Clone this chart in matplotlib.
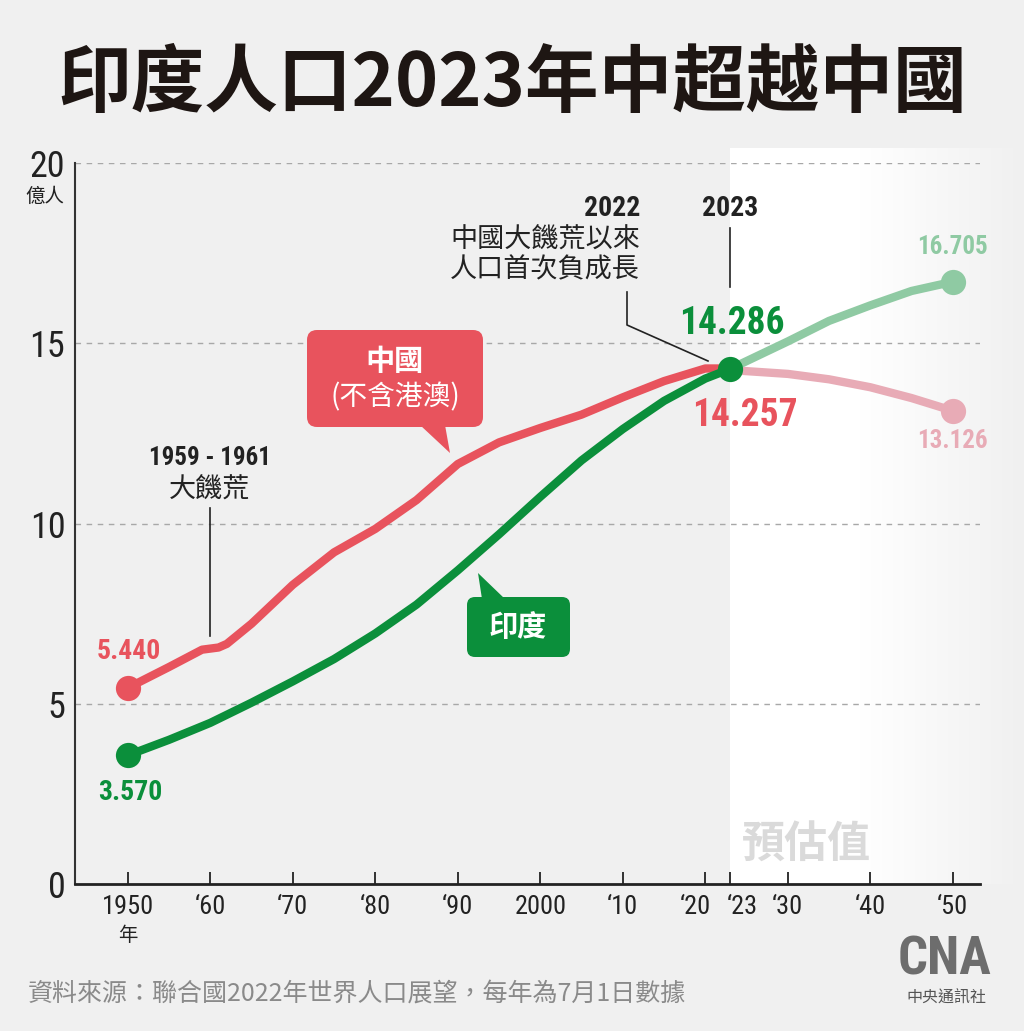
import numpy as np
import matplotlib.pyplot as plt
from matplotlib.patches import FancyBboxPatch, Polygon
from matplotlib.transforms import Affine2D, ScaledTranslation
from matplotlib.colors import to_rgb

plt.rcParams['font.family'] = ['Noto Sans CJK TC', 'DejaVu Sans']

# data (億人)
china_years = [1950, 1955, 1959, 1961, 1962, 1965, 1970, 1975, 1980, 1985,
               1990, 1995, 2000, 2005, 2010, 2015, 2020, 2022, 2023]
china_vals = [5.44, 6.02, 6.5, 6.56, 6.66, 7.22, 8.3, 9.2, 9.85, 10.65,
              11.65, 12.25, 12.65, 13.02, 13.5, 13.95, 14.3, 14.3, 14.257]
india_years = [1950, 1955, 1960, 1965, 1970, 1975, 1980, 1985, 1990, 1995,
               2000, 2005, 2010, 2015, 2020, 2023]
india_vals = [3.57, 4.0, 4.47, 5.03, 5.62, 6.24, 6.95, 7.75, 8.7, 9.7,
              10.74, 11.75, 12.62, 13.4, 14.02, 14.286]
proj_years = [2023, 2030, 2035, 2040, 2045, 2050]
china_proj = [14.257, 14.15, 14.0, 13.78, 13.48, 13.126]
india_proj = [14.286, 15.05, 15.62, 16.05, 16.45, 16.705]

tick_years = [1950, 1960, 1970, 1980, 1990, 2000, 2010, 2020, 2023, 2030, 2040, 2050]
tick_labels = ['1950', '‘60', '‘70', '‘80', '‘90', '2000', '‘10', '‘20', '‘23',
               '‘30', '‘40', '‘50']

BG = '#f0f0f0'
RED = '#e8535d'
GREEN = '#0b8f3b'
LGREEN = '#8fcaa3'
PINK = '#e8abb6'
NUM = ['Roboto Condensed', 'Liberation Sans Narrow', 'Roboto', 'Noto Sans CJK TC']

W, H = 1024, 1031
fig = plt.figure(figsize=(W / 100, H / 100), dpi=100)
fig.patch.set_facecolor(BG)
# pixel coords, origin top-left
pix = Affine2D().scale(1 / W, -1 / H).translate(0, 1) + fig.transFigure

ax = fig.add_axes([75 / W, 1 - 884 / H, 905 / W, 721 / H])
ax.set_facecolor('none')

# forecast background
xs = np.linspace(730, 1024, 300)
t = np.clip((xs - 860) / (1024 - 860), 0, 1)
c0, c1 = np.array([1, 1, 1]), np.array(to_rgb(BG))
grad = (c0[None, :] * (1 - t[:, None]) + c1[None, :] * t[:, None])[None, :, :]
ax.imshow(grad, extent=[2023, 2058.7, 0, 20.4], aspect='auto', clip_on=False,
          zorder=0, interpolation='bilinear')

ax.set_xlim(1943.6, 2053.3)
ax.set_ylim(0, 20)

for v in [5, 10, 15, 20]:
    ax.axhline(v, color='#a8a8a8', lw=1, dashes=(4, 4), zorder=1)

ax.plot(proj_years, china_proj, color=PINK, lw=6, solid_capstyle='round', zorder=2)
ax.plot(proj_years, india_proj, color=LGREEN, lw=6, solid_capstyle='round', zorder=2)
ax.plot(china_years, china_vals, color=RED, lw=6, solid_capstyle='round',
        solid_joinstyle='round', zorder=3)
ax.plot(india_years, india_vals, color=GREEN, lw=6, solid_capstyle='round',
        solid_joinstyle='round', zorder=4)

ax.scatter([proj_years[-1]], [china_proj[-1]], s=330, color=PINK, zorder=5, lw=0)
ax.scatter([proj_years[-1]], [india_proj[-1]], s=330, color=LGREEN, zorder=5, lw=0)
ax.scatter([china_years[0]], [china_vals[0]], s=330, color=RED, zorder=5, lw=0)
ax.scatter([india_years[0]], [india_vals[0]], s=330, color=GREEN, zorder=5, lw=0)
ax.scatter([india_years[-1]], [india_vals[-1]], s=330, color=GREEN, zorder=6, lw=0)

# axes
for s in ['top', 'right']:
    ax.spines[s].set_visible(False)
ax.spines['left'].set_color('#333333')
ax.spines['left'].set_linewidth(1.5)
ax.spines['bottom'].set_color('#222222')
ax.spines['bottom'].set_linewidth(2)
ax.set_yticks([0, 5, 10, 15, 20])
ax.set_yticklabels(['0', '5', '10', '15', '20'], family=NUM, fontsize=26, color='#222222')
ax.tick_params(axis='y', length=0, pad=7)
ax.set_xticks(tick_years)
ax.set_xticklabels(tick_labels, family=NUM, fontsize=19, color='#222222')
ax.tick_params(axis='x', direction='in', length=9, width=1.3, color='#222222', pad=8)
labs = ax.get_xticklabels()
labs[7].set_transform(labs[7].get_transform() + ScaledTranslation(-7 / 72, 0, fig.dpi_scale_trans))
labs[8].set_transform(labs[8].get_transform() + ScaledTranslation(9 / 72, 0, fig.dpi_scale_trans))
ax.annotate('年', xy=(1950, 0), xytext=(0, -37), textcoords='offset points',
            ha='center', va='center', fontsize=14, color='#222222')

# value labels
def vlabel(x, y, s, color, dx, dy, size, weight='bold'):
    ax.annotate(s, xy=(x, y), xytext=(dx, dy), textcoords='offset points',
                ha='center', va='center', family=NUM, fontsize=size,
                fontweight=weight, color=color, zorder=7)

vlabel(china_years[0], china_vals[0], '5.440', RED, 1, 26, 20)
vlabel(india_years[0], india_vals[0], '3.570', GREEN, 2, -27, 20)
vlabel(india_years[-1], india_vals[-1], '14.286', GREEN, 1, 33, 27)
vlabel(china_years[-1], china_vals[-1], '14.257', RED, 11, -33, 27)
vlabel(proj_years[-1], india_proj[-1], '16.705', LGREEN, 0, 25, 18)
vlabel(proj_years[-1], china_proj[-1], '13.126', PINK, 0, -22, 18)

# text outside data
fig.text(512, 85, '印度人口2023年中超越中國', transform=pix, ha='center', va='center',
         fontsize=53, fontweight='black', color='#1e1613')
fig.text(45, 196, '億人', transform=pix, ha='center', va='center', fontsize=14, color='#222222')

# famine note
fig.text(210, 458, '1959 - 1961', transform=pix, ha='center', va='center',
         family=NUM, fontsize=18, fontweight='bold', color='#222222')
fig.text(210, 490, '大饑荒', transform=pix, ha='center', va='center', fontsize=19.5, color='#222222')
ax.plot([210, 210], [508, 636], color='#222222', lw=1.2, transform=pix, zorder=2)

# 2022 note
fig.text(640, 208, '2022', transform=pix, ha='right', va='center',
         family=NUM, fontsize=20, fontweight='bold', color='#222222')
fig.text(640, 240, '中國大饑荒以來', transform=pix, ha='right', va='center', fontsize=19.5, color='#222222')
fig.text(640, 270, '人口首次負成長', transform=pix, ha='right', va='center', fontsize=19.5, color='#222222')
ax.plot([627, 627, 708], [292, 325, 361], color='#222222', lw=1.2, transform=pix, zorder=2)

fig.text(730, 208, '2023', transform=pix, ha='center', va='center',
         family=NUM, fontsize=20, fontweight='bold', color='#222222')
ax.plot([730, 730], [228, 287], color='#222222', lw=1.2, transform=pix, zorder=2)

# callouts
fig.patches.append(FancyBboxPatch((307, 330), 176, 97, boxstyle='round,pad=0,rounding_size=10',
                                  transform=pix, fc=RED, ec='none', zorder=5))
fig.patches.append(Polygon([(420, 425), (445, 425), (450, 453)], closed=True,
                           transform=pix, fc=RED, ec='none', zorder=5))
fig.text(395, 361, '中國', transform=pix, ha='center', va='center', fontsize=21,
         fontweight='bold', color='white', zorder=6)
fig.text(395, 397, '(不含港澳)', transform=pix, ha='center', va='center', fontsize=20,
         color='white', zorder=6)

fig.patches.append(FancyBboxPatch((467, 597), 103, 60, boxstyle='round,pad=0,rounding_size=8',
                                  transform=pix, fc=GREEN, ec='none', zorder=5))
fig.patches.append(Polygon([(478, 573), (482, 599), (505, 599)], closed=True,
                           transform=pix, fc=GREEN, ec='none', zorder=5))
fig.text(518, 627, '印度', transform=pix, ha='center', va='center', fontsize=21,
         fontweight='bold', color='white', zorder=6)

fig.text(806, 845, '預估值', transform=pix, ha='center', va='center', fontsize=31,
         fontweight='bold', color='#dadada')

# footer
fig.text(28, 994, '資料來源：聯合國2022年世界人口展望，每年為7月1日數據', transform=pix,
         ha='left', va='center', fontsize=18, color='#8a8a8a')
fig.text(944, 960, 'CNA', transform=pix, ha='center', va='center', family=NUM,
         fontsize=38, fontweight='bold', color='#6d6d6d')
fig.text(946, 998, '中央通訊社', transform=pix, ha='center', va='center', fontsize=11.5,
         color='#555555')

fig.savefig('out.png', dpi=100, facecolor=BG)
